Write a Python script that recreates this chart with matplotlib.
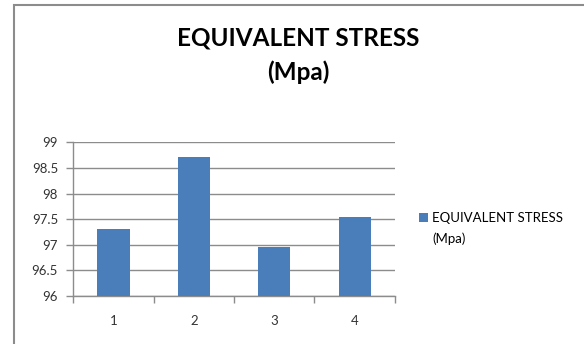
import matplotlib.pyplot as plt
from matplotlib.patches import Rectangle

# Equivalent stress for each case
casos = ["1", "2", "3", "4"]
tensao = [97.31, 98.71, 96.96, 97.55]
y_ticks = [96, 96.5, 97, 97.5, 98, 98.5, 99]
y_labels = ["96", "96.5", "97", "97.5", "98", "98.5", "99"]

plt.rcParams['font.family'] = ['Lato', 'DejaVu Sans']

fig = plt.figure(figsize=(5.84, 3.44), dpi=100)
ax = fig.add_axes([0.1255, 0.1395, 0.5505, 0.4468])

cinza = "#8c8c8c"
x = range(1, len(casos) + 1)
ax.bar(x, tensao, width=0.4, color="#4a7ebb", zorder=3,
       label="EQUIVALENT STRESS")

ax.set_xlim(0.5, 4.5)
ax.set_ylim(96, 99)
ax.set_yticks(y_ticks)
ax.set_yticklabels(y_labels, fontsize=9.5, color="#333333")
ax.set_xticks([0.5, 1.5, 2.5, 3.5, 4.5])
ax.set_xticklabels([])
ax.set_xticks(list(x), minor=True)
ax.set_xticklabels(casos, minor=True, fontsize=9.5, color="#333333")
ax.tick_params(axis="x", which="minor", length=0, pad=14)
ax.tick_params(axis="x", which="major", length=5, color=cinza, width=1)
ax.tick_params(axis="y", length=5, color=cinza, width=1, pad=6)

ax.grid(axis="y", color=cinza, linewidth=1, zorder=0)
for lado in ["top", "right"]:
    ax.spines[lado].set_visible(False)
for lado in ["left", "bottom"]:
    ax.spines[lado].set_color(cinza)
    ax.spines[lado].set_linewidth(1)

fig.text(0.51, 0.89, "EQUIVALENT STRESS", ha="center", va="center",
         fontsize=17.5, fontweight="bold")
fig.text(0.51, 0.79, "(Mpa)", ha="center", va="center",
         fontsize=17.5, fontweight="bold")

fig.legend(loc="center left", bbox_to_anchor=(0.706, 0.365), frameon=False,
           fontsize=9.5, handlelength=0.7, handleheight=0.7,
           handletextpad=0.3, borderpad=0)
fig.text(0.741, 0.306, "(Mpa)", ha="left", va="center", fontsize=9.5)

# grey border around the chart area
borda = Rectangle((13.5 / 584, -0.1), 1.2, 1.1 - 5.5 / 344,
                  transform=fig.transFigure, fill=False, edgecolor=cinza,
                  linewidth=1.5, clip_on=False)
fig.patches.append(borda)

fig.savefig("out.png", dpi=100)
